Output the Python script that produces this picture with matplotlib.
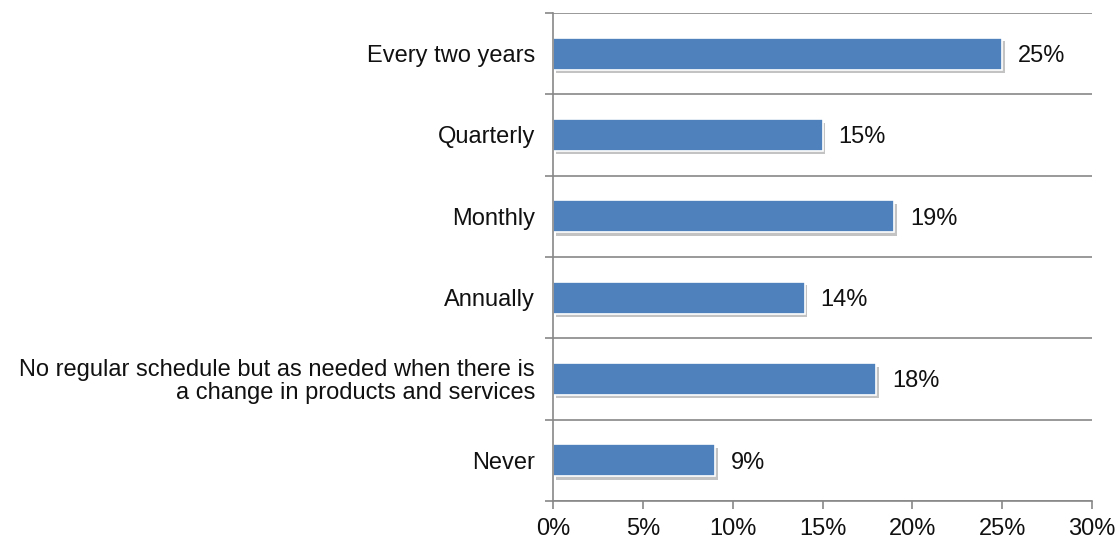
import matplotlib
matplotlib.use('Agg')
import matplotlib.pyplot as plt
import matplotlib.patheffects as pe
from matplotlib.ticker import FuncFormatter, FixedLocator, NullFormatter

plt.rcParams['font.family'] = ['Liberation Sans', 'DejaVu Sans']

categories = ['Every two years', 'Quarterly', 'Monthly', 'Annually',
              'No regular schedule but as needed when there is\na change in products and services',
              'Never']
values = [25, 15, 19, 14, 18, 9]

grid_color = '#878787'
bar_color = '#4F81BD'
fs = 17

fig = plt.figure(figsize=(11.2, 5.39), dpi=100)
ax = fig.add_axes([0.4938, 0.0705, 0.4812, 0.9054])

n = len(categories)
ypos = list(range(n))
bars = ax.barh(ypos, values, height=0.39, color=bar_color, edgecolor='white', linewidth=1.2,
               path_effects=[pe.SimplePatchShadow(offset=(2, -2.5), shadow_rgbFace='#888888', alpha=0.5), pe.Normal()])

for y, v in zip(ypos, values):
    ax.text(v + 0.9, y + 0.03, '{}%'.format(v), va='center', ha='left', fontsize=fs, color='#111111')

ax.set_xlim(0, 30)
ax.set_ylim(n - 0.5, -0.5)
ax.set_xticks(range(0, 31, 5))
ax.xaxis.set_major_formatter(FuncFormatter(lambda x, _: '{:.0f}%'.format(x)))

ax.set_yticks(ypos)
ax.set_yticklabels(categories, fontsize=fs, color='#111111', linespacing=1.05)
ax.tick_params(axis='y', which='major', length=0, pad=13)
ax.yaxis.set_minor_locator(FixedLocator([i - 0.5 for i in range(n + 1)]))
ax.yaxis.set_minor_formatter(NullFormatter())
ax.tick_params(axis='y', which='minor', length=6, color=grid_color, width=1.2)
ax.tick_params(axis='x', length=6, color=grid_color, width=1.2, labelsize=fs, labelcolor='#111111', pad=6)

for b in [i - 0.5 for i in range(n + 1)]:
    ax.axhline(b, color=grid_color, linewidth=1.2, zorder=0)

for s in ['top', 'right']:
    ax.spines[s].set_visible(False)
ax.spines['left'].set_color(grid_color)
ax.spines['left'].set_linewidth(1.2)
ax.spines['bottom'].set_color(grid_color)
ax.spines['bottom'].set_linewidth(1.2)
for lbl in ax.get_yticklabels():
    lbl.set_multialignment('right')

fig.savefig('out.png', dpi=100)
